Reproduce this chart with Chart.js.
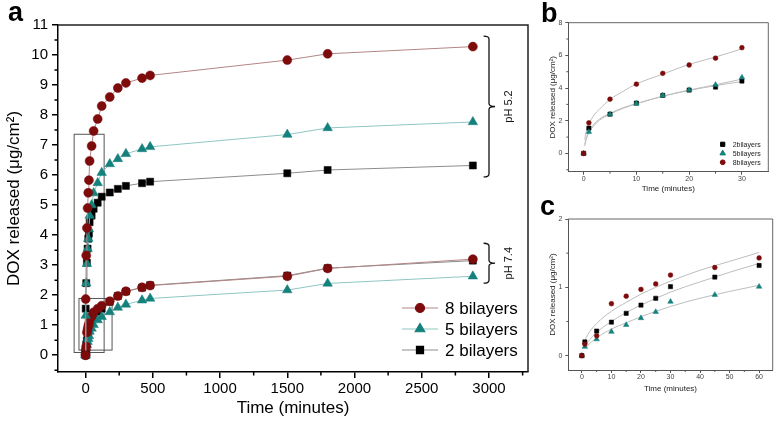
<!DOCTYPE html>
<html>
<head>
<meta charset="utf-8">
<script src="https://cdn.jsdelivr.net/npm/chart.js@4.4.1/dist/chart.umd.min.js"></script>
<style>
  body { margin: 0; background: #fff; width: 778px; height: 426px; position: relative; overflow: hidden; }
  canvas { position: absolute; }
</style>
</head>
<body>
<canvas id="chartA" width="535" height="426" style="left:0;top:0"></canvas>
<canvas id="chartB" width="243" height="200" style="left:535px;top:0"></canvas>
<canvas id="chartC" width="243" height="226" style="left:535px;top:200px"></canvas>
<script>
// ---- panel a: full release curves ----
const timeA = [0, 1, 5, 10, 15, 20, 25, 30, 45, 60, 90, 120, 180, 240, 300, 420, 480, 1500, 1800, 2880];
const acid8 = [0, 1.87, 3.32, 4.24, 4.9, 5.41, 5.83, 6.47, 6.97, 7.47, 7.87, 8.3, 8.6, 8.9, 9.07, 9.23, 9.32, 9.83, 10.04, 10.28];
const acid5 = [0, 1.32, 2.4, 3.05, 3.55, 3.88, 4.2, 4.65, 5.0, 5.4, 5.74, 6.08, 6.37, 6.54, 6.71, 6.87, 6.94, 7.35, 7.57, 7.77];
const acid2 = [0, 1.55, 2.4, 3.08, 3.55, 3.88, 4.06, 4.43, 4.65, 4.88, 5.08, 5.28, 5.42, 5.54, 5.64, 5.73, 5.78, 6.06, 6.17, 6.32];
const neutral8 = [0, 0.17, 0.29, 0.76, 0.87, 0.97, 1.05, 1.18, 1.29, 1.43, 1.55, 1.65, 1.8, 1.97, 2.13, 2.26, 2.32, 2.63, 2.89, 3.2];
const neutral5 = [0, 0.13, 0.24, 0.35, 0.45, 0.55, 0.64, 0.79, 0.89, 1.01, 1.17, 1.28, 1.44, 1.59, 1.69, 1.83, 1.89, 2.17, 2.39, 2.63];
const neutral2 = [0, 0.2, 0.36, 0.49, 0.62, 0.74, 0.84, 1.01, 1.15, 1.32, 1.45, 1.55, 1.78, 1.97, 2.12, 2.25, 2.33, 2.65, 2.9, 3.15];
const namesA = ['8 bilayers', '5 bilayers', '2 bilayers'];
const xTicksA = [0, 500, 1000, 1500, 2000, 2500, 3000];
const xMinorA = [250, 750, 1250, 1750, 2250, 2750, 3250];
const yTicksA = [0, 1, 2, 3, 4, 5, 6, 7, 8, 9, 10, 11];
const yMinorA = [-0.5, 0.5, 1.5, 2.5, 3.5, 4.5, 5.5, 6.5, 7.5, 8.5, 9.5, 10.5];

// ---- panel b: pH 5.2, first 30 min ----
const timeB = [0, 1, 5, 10, 15, 20, 25, 30];
const b2 = [0, 1.55, 2.4, 3.08, 3.55, 3.88, 4.06, 4.43];
const b5 = [0, 1.32, 2.4, 3.05, 3.55, 3.88, 4.2, 4.65];
const b8 = [0, 1.87, 3.32, 4.24, 4.9, 5.41, 5.83, 6.47];
const fitTimeB = [0.2, 0.5, 1, 2, 3, 5, 7.5, 10, 15, 20, 25, 30];
const fitB8 = [0.85, 1.35, 1.8, 2.35, 2.7, 3.3, 3.8, 4.25, 4.85, 5.45, 5.9, 6.4];
const fitB5 = [0.45, 0.85, 1.25, 1.72, 2.03, 2.4, 2.76, 3.03, 3.5, 3.88, 4.2, 4.55];
const fitB2 = [0.55, 0.95, 1.35, 1.8, 2.1, 2.45, 2.8, 3.05, 3.5, 3.85, 4.15, 4.4];
const namesB = ['2bilayers', '5bilayers', '8bilayers'];
const xTicksB = [0, 10, 20, 30];
const xMinorB = [5, 15, 25];
const yTicksB = [0, 2, 4, 6, 8];
const yMinorB = [-1, 1, 3, 5, 7];

// ---- panel c: pH 7.4, first 60 min ----
const timeC = [0, 1, 5, 10, 15, 20, 25, 30, 45, 60];
const c2 = [0, 0.2, 0.36, 0.49, 0.62, 0.74, 0.84, 1.01, 1.15, 1.32];
const c5 = [0, 0.13, 0.24, 0.35, 0.45, 0.55, 0.64, 0.79, 0.89, 1.01];
const c8 = [0, 0.17, 0.29, 0.76, 0.87, 0.97, 1.05, 1.18, 1.29, 1.43];
const fitTimeC = [1, 2, 5, 10, 15, 20, 30, 40, 50, 60];
const fitC8 = [0.22, 0.31, 0.47, 0.65, 0.78, 0.9, 1.09, 1.25, 1.38, 1.51];
const fitC2 = [0.14, 0.2, 0.34, 0.5, 0.63, 0.74, 0.93, 1.08, 1.22, 1.35];
const fitC5 = [0.1, 0.15, 0.26, 0.39, 0.48, 0.57, 0.72, 0.84, 0.94, 1.03];
const xTicksC = [0, 10, 20, 30, 40, 50, 60];
const xMinorC = [5, 15, 25, 35, 45, 55];
const yTicksC = [0, 1, 2];
const yMinorC = [0.5, 1.5];

const FONT = '"Liberation Sans", Arial, sans-serif';
const RED = '#7d0b0b', TEAL = '#14817d', BLACK = '#000';
const LINE_RED = '#b58585', LINE_TEAL = '#8ec6c3', LINE_GREY = '#8c8c8c';

function pts(xs, ys) {
  return xs.map((x, i) => ({ x: x, y: ys[i] }));
}

function drawMinor(chart, xs, ys, len, color, width) {
  const { ctx, chartArea: ca, scales } = chart;
  ctx.save();
  ctx.strokeStyle = color;
  ctx.lineWidth = width;
  ctx.beginPath();
  xs.forEach(v => {
    const p = scales.x.getPixelForValue(v);
    ctx.moveTo(p, ca.bottom); ctx.lineTo(p, ca.bottom + len);
  });
  ys.forEach(v => {
    const p = scales.y.getPixelForValue(v);
    ctx.moveTo(ca.left, p); ctx.lineTo(ca.left - len, p);
  });
  ctx.stroke();
  ctx.restore();
}

function frame(chart, color, width) {
  const { ctx, chartArea: ca } = chart;
  ctx.save();
  ctx.strokeStyle = color;
  ctx.lineWidth = width;
  ctx.beginPath();
  ctx.moveTo(ca.left, ca.top); ctx.lineTo(ca.right, ca.top); ctx.lineTo(ca.right, ca.bottom);
  ctx.stroke();
  ctx.restore();
}

function marker(ctx, style, r, x, y, color) {
  ctx.fillStyle = color;
  ctx.strokeStyle = color;
  Chart.helpers.drawPoint(ctx, { pointStyle: style, radius: r, rotation: 0, borderWidth: 0.5 }, x, y);
}

function panelLetter(ctx, letter, x, y) {
  ctx.save();
  ctx.fillStyle = '#000';
  ctx.font = 'bold 27px ' + FONT;
  ctx.textBaseline = 'alphabetic';
  ctx.fillText(letter, x, y);
  ctx.restore();
}

function series(label, data, color, line, style, r) {
  return {
    label: label, data: data, borderColor: line, borderWidth: 1,
    pointStyle: style, pointRadius: r, pointBackgroundColor: color,
    pointBorderColor: color, pointBorderWidth: 0.5, tension: 0
  };
}

// zoom boxes and braces in panel a (data coordinates)
const boxesA = [[-85, 7.36, 138, 0.09], [-49, 1.89, 197, 0.17]];
const bracesA = [['pH 5.2', 10.63, 5.94], ['pH 7.4', 3.73, 2.4]];

const decorA = {
  id: 'decorA',
  beforeDatasetsDraw(chart) {
    const { ctx, scales: { x, y } } = chart;
    ctx.save();
    ctx.strokeStyle = '#555';
    ctx.lineWidth = 1;
    boxesA.forEach(b => {
      const x0 = x.getPixelForValue(b[0]), y0 = y.getPixelForValue(b[1]);
      const x1 = x.getPixelForValue(b[2]), y1 = y.getPixelForValue(b[3]);
      ctx.strokeRect(x0, y0, x1 - x0, y1 - y0);
    });
    ctx.restore();
  },
  afterDraw(chart) {
    const { ctx, scales: { x, y } } = chart;
    frame(chart, '#222', 1.5);
    drawMinor(chart, xMinorA, yMinorA, 3.5, '#000', 1.5);

    // braces
    ctx.save();
    ctx.strokeStyle = '#111';
    ctx.lineWidth = 1.3;
    bracesA.forEach(b => {
      const x0 = x.getPixelForValue(2960), x1 = x.getPixelForValue(3000), x2 = x.getPixelForValue(3045);
      const top = y.getPixelForValue(b[1]), bot = y.getPixelForValue(b[2]);
      const mid = (top + bot) / 2, r = 3;
      ctx.beginPath();
      ctx.moveTo(x0, top);
      ctx.quadraticCurveTo(x1, top, x1, top + r);
      ctx.lineTo(x1, mid - r);
      ctx.quadraticCurveTo(x1, mid, x2, mid);
      ctx.quadraticCurveTo(x1, mid, x1, mid + r);
      ctx.lineTo(x1, bot - r);
      ctx.quadraticCurveTo(x1, bot, x0, bot);
      ctx.stroke();
      ctx.save();
      ctx.translate(x2 + 14, mid);
      ctx.rotate(-Math.PI / 2);
      ctx.fillStyle = '#111';
      ctx.font = '11px ' + FONT;
      ctx.textAlign = 'center';
      ctx.textBaseline = 'middle';
      ctx.fillText(b[0], 0, 0);
      ctx.restore();
    });
    ctx.restore();

    // legend
    const ds = chart.data.datasets;
    ctx.save();
    ctx.font = '17px ' + FONT;
    ctx.textBaseline = 'middle';
    namesA.forEach((name, i) => {
      const d = ds[i];
      const ly = 308 + i * 21;
      ctx.strokeStyle = d.borderColor;
      ctx.lineWidth = 1.2;
      ctx.beginPath(); ctx.moveTo(402, ly); ctx.lineTo(438, ly); ctx.stroke();
      marker(ctx, d.pointStyle, d.pointRadius, 420, ly, d.pointBackgroundColor);
      ctx.fillStyle = '#000';
      ctx.fillText(name, 445, ly + 1);
    });
    ctx.restore();

    panelLetter(ctx, 'a', 8, 21);
  }
};

new Chart(document.getElementById('chartA'), {
  type: 'line',
  data: {
    datasets: [
      series(namesA[0], pts(timeA, acid8), RED, LINE_RED, 'circle', 4.5),
      series(namesA[1], pts(timeA, acid5), TEAL, LINE_TEAL, 'triangle', 5.5),
      series(namesA[2], pts(timeA, acid2), BLACK, LINE_GREY, 'rect', 5),
      series(namesA[0], pts(timeA, neutral8), RED, LINE_RED, 'circle', 4.5),
      series(namesA[1], pts(timeA, neutral5), TEAL, LINE_TEAL, 'triangle', 5.5),
      series(namesA[2], pts(timeA, neutral2), BLACK, LINE_GREY, 'rect', 5)
    ]
  },
  options: {
    responsive: false,
    animation: false,
    devicePixelRatio: 1,
    layout: { padding: { left: 0, right: 7, top: 25, bottom: 0 } },
    plugins: { legend: { display: false }, tooltip: { enabled: false } },
    scales: {
      x: {
        type: 'linear', min: -205, max: 3290,
        afterBuildTicks: s => { s.ticks = xTicksA.map(v => ({ value: v })); },
        afterFit: s => { s.height = 54; },
        grid: { drawOnChartArea: false, drawTicks: true, tickLength: 6, color: '#000', lineWidth: 1.5 },
        border: { color: '#000', width: 1.5 },
        ticks: { color: '#000', font: { size: 15, family: FONT }, padding: 2, maxRotation: 0, autoSkip: false, callback: v => String(v) },
        title: { display: true, text: 'Time (minutes)', color: '#000', font: { size: 17, family: FONT, lineHeight: 1 }, padding: { top: 0, bottom: 9.5 } }
      },
      y: {
        type: 'linear', min: -0.56, max: 11,
        afterBuildTicks: s => { s.ticks = yTicksA.map(v => ({ value: v })); },
        afterFit: s => { s.width = 58; },
        grid: { drawOnChartArea: false, drawTicks: true, tickLength: 6, color: '#000', lineWidth: 1.5 },
        border: { color: '#000', width: 1.5 },
        ticks: { color: '#000', font: { size: 15, family: FONT }, padding: 4, autoSkip: false, callback: v => String(v) },
        title: { display: true, text: 'DOX released (μg/cm²)', color: '#000', font: { size: 17, family: FONT, lineHeight: 1 }, padding: { top: 5.5, bottom: 0 } }
      }
    }
  },
  plugins: [decorA]
});

// ---- small panels b and c ----
function smallChart(id, cfg) {
  const styles = { '2bilayers': ['rect', 3, BLACK], '5bilayers': ['triangle', 3.2, TEAL], '8bilayers': ['circle', 2.4, RED] };
  const datasets = [];
  cfg.points.forEach(p => {
    const st = styles[p[0]];
    datasets.push({
      type: 'scatter', label: p[0], data: pts(cfg.time, p[1]), order: 0,
      pointStyle: st[0], pointRadius: st[1], pointBackgroundColor: st[2], pointBorderColor: st[2], pointBorderWidth: 0.5
    });
  });
  cfg.fits.forEach(f => {
    datasets.push({
      type: 'line', data: pts(cfg.fitTime, f), order: 1, borderColor: '#bdbdbd', borderWidth: 1,
      pointRadius: 0, tension: 0.4, cubicInterpolationMode: 'monotone'
    });
  });
  const decor = {
    id: 'decor' + id,
    afterDraw(chart) {
      const { ctx } = chart;
      frame(chart, '#666', 1);
      drawMinor(chart, cfg.xMinor, cfg.yMinor, 2, '#555', 1);
      if (cfg.legend) {
        ctx.save();
        ctx.font = '7px ' + FONT;
        ctx.textBaseline = 'middle';
        namesB.forEach((name, i) => {
          const st = styles[name];
          const ly = 144.3 + i * 9;
          marker(ctx, st[0], st[1], 187.7, ly, st[2]);
          ctx.fillStyle = '#222';
          ctx.fillText(name, 197.7, ly + 0.5);
        });
        ctx.restore();
      }
      panelLetter(ctx, cfg.letter, cfg.letterX, cfg.letterY);
    }
  };
  const tickFont = { size: 7, family: FONT };
  const titleFont = { size: 8, family: FONT, lineHeight: 1 };
  new Chart(document.getElementById(id), {
    type: 'scatter',
    data: { datasets: datasets },
    options: {
      responsive: false,
      animation: false,
      devicePixelRatio: 1,
      layout: { padding: { left: 0, right: cfg.padRight, top: cfg.padTop, bottom: 0 } },
      plugins: { legend: { display: false }, tooltip: { enabled: false } },
      scales: {
        x: {
          type: 'linear', min: cfg.xMin, max: cfg.xMax,
          afterBuildTicks: s => { s.ticks = cfg.xTicks.map(v => ({ value: v })); },
          afterFit: s => { s.height = cfg.xHeight; },
          grid: { drawOnChartArea: false, drawTicks: true, tickLength: 3, color: '#555', lineWidth: 1 },
          border: { color: '#555', width: 1 },
          ticks: { color: '#444', font: tickFont, padding: 0, maxRotation: 0, autoSkip: false },
          title: { display: true, text: 'Time (minutes)', color: '#222', font: titleFont, padding: { top: 0, bottom: cfg.xTitlePad } }
        },
        y: {
          type: 'linear', min: cfg.yMin, max: cfg.yMax,
          afterBuildTicks: s => { s.ticks = cfg.yTicks.map(v => ({ value: v })); },
          afterFit: s => { s.width = 33.3; },
          grid: { drawOnChartArea: false, drawTicks: true, tickLength: 3, color: '#555', lineWidth: 1 },
          border: { color: '#555', width: 1 },
          ticks: { color: '#444', font: tickFont, padding: 3, autoSkip: false },
          title: { display: true, text: 'DOX released (μg/cm²)', color: '#222', font: titleFont, padding: { top: 13.7, bottom: 0 } }
        }
      }
    },
    plugins: [decor]
  });
}

smallChart('chartB', {
  time: timeB, fitTime: fitTimeB,
  points: [['8bilayers', b8], ['5bilayers', b5], ['2bilayers', b2]],
  fits: [fitB8, fitB5, fitB2],
  xMin: -2.9, xMax: 35, yMin: -1.12, yMax: 8,
  xTicks: xTicksB, xMinor: xMinorB, yTicks: yTicksB, yMinor: yMinorB,
  padRight: 9.7, padTop: 22.7, xHeight: 28.3, xTitlePad: 7.7,
  legend: true, letter: 'b', letterX: 6, letterY: 21.5
});

smallChart('chartC', {
  time: timeC, fitTime: fitTimeC,
  points: [['8bilayers', c8], ['2bilayers', c2], ['5bilayers', c5]],
  fits: [fitC8, fitC2, fitC5],
  xMin: -4.6, xMax: 64.6, yMin: -0.21, yMax: 2,
  xTicks: xTicksC, xMinor: xMinorC, yTicks: yTicksC, yMinor: yMinorC,
  padRight: 5.3, padTop: 19, xHeight: 56, xTitlePad: 33,
  legend: false, letter: 'c', letterX: 5, letterY: 15
});
</script>
</body>
</html>
